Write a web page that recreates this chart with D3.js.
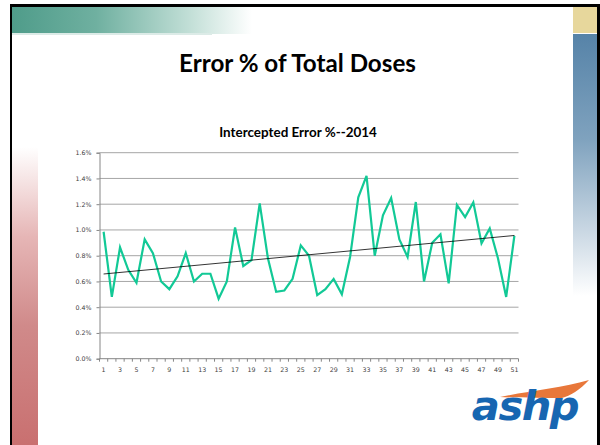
<!DOCTYPE html>
<html>
<head>
<meta charset="utf-8">
<script src="https://cdn.jsdelivr.net/npm/d3@7"></script>
<style>
  html, body { margin: 0; padding: 0; background: #fff; }
  svg { display: block; }
</style>
</head>
<body>
<div id="chart"></div>
<script>
// weeks of 2014
var weeks = d3.range(1, 52);
// intercepted error % per week
var errorPct = [
  0.986, 0.48, 0.865, 0.69, 0.59, 0.927, 0.82, 0.60, 0.54, 0.64,
  0.82, 0.60, 0.66, 0.66, 0.466, 0.60, 1.02, 0.72, 0.766, 1.206,
  0.78, 0.52, 0.53, 0.62, 0.88, 0.80, 0.494, 0.54, 0.62, 0.50,
  0.79, 1.253, 1.42, 0.80, 1.113, 1.248, 0.927, 0.79, 1.217, 0.60,
  0.90, 0.966, 0.585, 1.194, 1.10, 1.214, 0.896, 1.012, 0.78, 0.48,
  0.955
];
var yTicks = [0, 0.2, 0.4, 0.6, 0.8, 1.0, 1.2, 1.4, 1.6];

var slideTitle = "Error % of Total Doses";
var chartTitle = "Intercepted Error %--2014";

(function () {
var W = 600, H = 445;
var svg = d3.select("#chart").append("svg").attr("width", W).attr("height", H);
var defs = svg.append("defs");

// --- slide decoration ---
var gTop = defs.append("linearGradient").attr("id", "gTop");
gTop.append("stop").attr("offset", "0").attr("stop-color", "#4f9c8a");
gTop.append("stop").attr("offset", "0.35").attr("stop-color", "#6fb0a0");
gTop.append("stop").attr("offset", "0.75").attr("stop-color", "#c4e0d8");
gTop.append("stop").attr("offset", "1").attr("stop-color", "#ffffff");

var gLeft = defs.append("linearGradient").attr("id", "gLeft")
  .attr("x1", 0).attr("y1", 0).attr("x2", 0).attr("y2", 1);
gLeft.append("stop").attr("offset", "0").attr("stop-color", "#ffffff");
gLeft.append("stop").attr("offset", "0.3").attr("stop-color", "#e6b6b6");
gLeft.append("stop").attr("offset", "0.6").attr("stop-color", "#d08a8a");
gLeft.append("stop").attr("offset", "1").attr("stop-color", "#c97070");

var gRight = defs.append("linearGradient").attr("id", "gRight")
  .attr("x1", 0).attr("y1", 0).attr("x2", 0).attr("y2", 1);
gRight.append("stop").attr("offset", "0").attr("stop-color", "#5683a8");
gRight.append("stop").attr("offset", "0.4").attr("stop-color", "#7fa2be");
gRight.append("stop").attr("offset", "0.75").attr("stop-color", "#c9d7e3");
gRight.append("stop").attr("offset", "1").attr("stop-color", "#ffffff");

svg.append("rect").attr("x", 12).attr("y", 7).attr("width", 240).attr("height", 27).attr("fill", "url(#gTop)");
svg.append("rect").attr("x", 12).attr("y", 33).attr("width", 200).attr("height", 2).attr("fill", "#dcebe7");
svg.append("rect").attr("x", 12).attr("y", 147).attr("width", 26).attr("height", 298).attr("fill", "url(#gLeft)");
svg.append("rect").attr("x", 573).attr("y", 7).attr("width", 24).attr("height", 26).attr("fill", "#e7d79c");
svg.append("rect").attr("x", 573).attr("y", 34).attr("width", 24).attr("height", 262).attr("fill", "url(#gRight)");

// frame
svg.append("rect").attr("x", 10).attr("y", 4).attr("width", 590).attr("height", 3).attr("fill", "#000");
svg.append("rect").attr("x", 10).attr("y", 4).attr("width", 2).attr("height", 441).attr("fill", "#000");
svg.append("rect").attr("x", 597).attr("y", 4).attr("width", 3).attr("height", 441).attr("fill", "#000");

// titles, sized to the reference widths
function fitText(sel, width) {
  var fs = +sel.attr("font-size");
  var len = sel.node().getComputedTextLength();
  sel.attr("font-size", fs * width / len);
}
var t1 = svg.append("text").text(slideTitle)
  .attr("x", 297.5).attr("y", 72).attr("text-anchor", "middle")
  .attr("font-family", "Lato, 'Open Sans', sans-serif").attr("font-weight", "bold")
  .attr("font-size", 20).attr("fill", "#000");
fitText(t1, 237);
var t2 = svg.append("text").text(chartTitle)
  .attr("x", 298).attr("y", 137).attr("text-anchor", "middle")
  .attr("font-family", "Lato, 'Open Sans', sans-serif").attr("font-weight", "bold")
  .attr("font-size", 11).attr("fill", "#000");
fitText(t2, 158);

// --- chart ---
var plotL = 99.5, plotR = 518.5, plotT = 152.7, plotB = 358.7;
var x = d3.scaleBand().domain(weeks).range([plotL, plotR]).padding(0);
var y = d3.scaleLinear().domain([0, 1.6]).range([plotB, plotT]);
var cx = function (d) { return x(d) + x.bandwidth() / 2; };

var g = svg.append("g");

g.selectAll("line.grid").data(yTicks.slice(1)).enter().append("line")
  .attr("class", "grid")
  .attr("x1", plotL).attr("x2", plotR)
  .attr("y1", function (d) { return y(d); }).attr("y2", function (d) { return y(d); })
  .attr("stroke", "#a6a6a6").attr("stroke-width", 1);

// y axis
var yAxis = g.append("g").attr("transform", "translate(" + plotL + ",0)")
  .call(d3.axisLeft(y).tickValues(yTicks).tickSize(3).tickPadding(5)
    .tickFormat(function (d) { return d.toFixed(1) + "%"; }));
yAxis.select(".domain").attr("stroke", "#868686");
yAxis.selectAll(".tick line").attr("stroke", "#868686");
yAxis.selectAll("text").attr("font-family", "'DejaVu Sans', sans-serif")
  .attr("font-size", 6.3).attr("fill", "#404040");

// x axis: ticks between categories, labels on odd weeks
var xg = g.append("g").attr("transform", "translate(0," + plotB + ")");
xg.append("line").attr("x1", plotL).attr("x2", plotR).attr("stroke", "#868686");
var edges = weeks.map(function (d) { return x(d); }).concat([plotR]);
xg.selectAll("line.tk").data(edges).enter().append("line")
  .attr("class", "tk")
  .attr("x1", function (d) { return d; }).attr("x2", function (d) { return d; })
  .attr("y1", 0).attr("y2", 3).attr("stroke", "#868686");
xg.selectAll("text").data(weeks.filter(function (d) { return d % 2 === 1; })).enter().append("text")
  .attr("x", cx).attr("y", 13).attr("text-anchor", "middle")
  .attr("font-family", "'DejaVu Sans', sans-serif").attr("font-size", 6.3).attr("fill", "#404040")
  .text(function (d) { return d; });

// data line
var pts = weeks.map(function (d, i) { return { w: d, v: errorPct[i] }; });
var line = d3.line().x(function (d) { return cx(d.w); }).y(function (d) { return y(d.v); });
g.append("path").datum(pts).attr("d", line)
  .attr("fill", "none").attr("stroke", "#12c996").attr("stroke-width", 2.2)
  .attr("stroke-linejoin", "miter");

// linear trend line
var n = pts.length;
var mx = d3.mean(pts, function (d) { return d.w; });
var my = d3.mean(pts, function (d) { return d.v; });
var slope = d3.sum(pts, function (d) { return (d.w - mx) * (d.v - my); }) /
            d3.sum(pts, function (d) { return (d.w - mx) * (d.w - mx); });
var icpt = my - slope * mx;
var trend = [weeks[0], weeks[n - 1]].map(function (w) { return { w: w, v: icpt + slope * w }; });
g.append("path").datum(trend).attr("d", line)
  .attr("fill", "none").attr("stroke", "#000").attr("stroke-width", 0.8);

// --- ashp logo ---
var logo = svg.append("g");
logo.append("path")
  .attr("d", "M500,397 C528,391 562,388 589,380 C580,390 570,396 562,398 C542,398 520,398 500,397 Z")
  .attr("fill", "#e8773a");
var lt = logo.append("text").text("ashp")
  .attr("x", 525).attr("y", 420).attr("text-anchor", "middle")
  .attr("font-family", "'DejaVu Sans', sans-serif").attr("font-weight", "bold")
  .attr("font-style", "italic").attr("font-size", 34).attr("letter-spacing", -1.5)
  .attr("fill", "#1766b1");
fitText(lt, 105);
})();
</script>
</body>
</html>
